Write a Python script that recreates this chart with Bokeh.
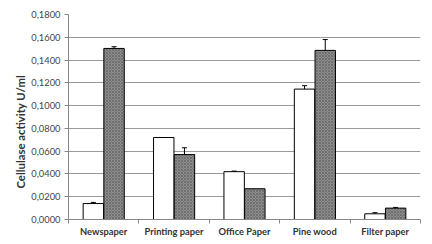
from bokeh.plotting import figure
from bokeh.models import FixedTicker, Range1d, ColumnDataSource, Whisker, TeeHead, CustomJSTickFormatter, Title
from bokeh.embed import file_html
from bokeh.resources import INLINE

categories = ["Newspaper", "Printing paper", "Office Paper", "Pine wood", "Filter paper"]
series_a = [0.0140, 0.0720, 0.0420, 0.1145, 0.0050]
err_a = [0.0010, 0.0000, 0.0005, 0.0030, 0.0010]
series_b = [0.1502, 0.0570, 0.0270, 0.1485, 0.0100]
err_b = [0.0015, 0.0060, 0.0000, 0.0095, 0.0006]
y_ticks = [0.0, 0.02, 0.04, 0.06, 0.08, 0.10, 0.12, 0.14, 0.16, 0.18]
y_title = "Cellulase activity U/ml"

FONT = "Lato"
offset = 0.147
bar_w = 0.29
idx = list(range(len(categories)))
xa = [i + 0.5 - offset for i in idx]
xb = [i + 0.5 + offset for i in idx]

src_a = ColumnDataSource(dict(x=xa, top=series_a))
src_b = ColumnDataSource(dict(x=xb, top=series_b))

def err_source(xs, vals, errs):
    keep = [k for k, e in enumerate(errs) if e > 0]
    return ColumnDataSource(dict(x=[xs[k] for k in keep],
                                 lo=[vals[k] - errs[k] for k in keep],
                                 hi=[vals[k] + errs[k] for k in keep]))

p = figure(width=432, height=244, output_backend="svg", toolbar_location=None,
           x_range=Range1d(0, len(categories)), y_range=Range1d(0, 0.18),
           min_border_left=68, min_border_right=12, min_border_top=14, min_border_bottom=25)
p.outline_line_color = None
p.background_fill_color = "white"
p.border_fill_color = "white"

p.vbar(x="x", top="top", width=bar_w, source=src_a, fill_color="white",
       line_color="black", line_width=1)
p.vbar(x="x", top="top", width=bar_w, source=src_b, fill_color="#8e8e8e",
       hatch_pattern="x", hatch_color="#5a5a5a", hatch_scale=3, hatch_weight=0.6,
       line_color="black", line_width=1)

for es in (err_source(xa, series_a, err_a), err_source(xb, series_b, err_b)):
    w = Whisker(source=es, base="x", lower="lo", upper="hi", line_color="black", line_width=1,
                lower_head=TeeHead(size=5, line_color="black"),
                upper_head=TeeHead(size=5, line_color="black"))
    p.add_layout(w)

t = Title(text=y_title, align="left", offset=31, text_font=FONT, text_font_style="bold",
          text_font_size="8.5pt", text_color="#333333", standoff=4)
p.add_layout(t, "left")

# y axis
p.yaxis.ticker = FixedTicker(ticks=y_ticks)
p.yaxis.formatter = CustomJSTickFormatter(code="return tick.toFixed(4).replace('.', ',');")
p.yaxis.major_label_text_font = FONT
p.yaxis.major_label_text_font_size = "7pt"
p.yaxis.major_label_text_color = "#444444"
p.yaxis.axis_line_color = "#888888"
p.yaxis.major_tick_line_color = "#888888"
p.yaxis.major_tick_out = 4
p.yaxis.major_tick_in = 0
p.yaxis.minor_tick_line_color = None
p.yaxis.major_label_standoff = 4

# x axis
p.xaxis.ticker = FixedTicker(ticks=[i + 0.5 for i in idx], minor_ticks=list(range(len(categories) + 1)))
p.xaxis.major_label_overrides = {i + 0.5: c for i, c in enumerate(categories)}
p.xaxis.major_tick_line_color = None
p.xaxis.minor_tick_line_color = "#888888"
p.xaxis.minor_tick_out = 4
p.xaxis.minor_tick_in = 0
p.xaxis.axis_line_color = "#888888"
p.xaxis.major_label_text_font = FONT
p.xaxis.major_label_text_font_style = "bold"
p.xaxis.major_label_text_font_size = "7pt"
p.xaxis.major_label_text_color = "#333333"
p.xaxis.major_label_standoff = 0

p.xgrid.grid_line_color = None
p.ygrid.ticker = FixedTicker(ticks=y_ticks)
p.ygrid.grid_line_color = "#9a9a9a"
p.ygrid.grid_line_width = 1

open("out.html", "w").write(file_html(p, INLINE))
